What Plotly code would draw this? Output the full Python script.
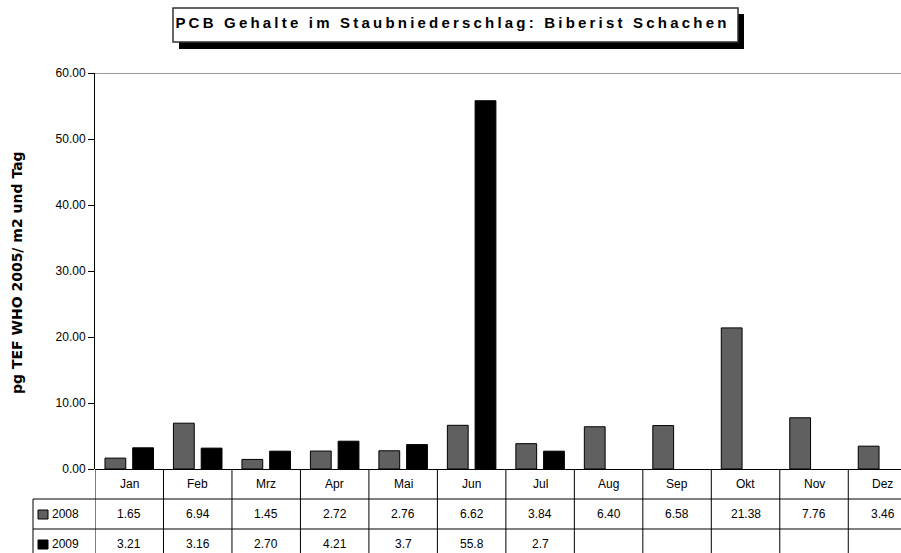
import plotly.graph_objects as go

months = ["Jan", "Feb", "Mrz", "Apr", "Mai", "Jun", "Jul", "Aug", "Sep", "Okt", "Nov", "Dez"]
labels_2008 = ["1.65", "6.94", "1.45", "2.72", "2.76", "6.62", "3.84", "6.40", "6.58", "21.38", "7.76", "3.46"]
labels_2009 = ["3.21", "3.16", "2.70", "4.21", "3.7", "55.8", "2.7", "", "", "", "", ""]
series_names = ["2008", "2009"]
ytick_vals = [0, 10, 20, 30, 40, 50, 60]

vals_2008 = [float(s) if s else None for s in labels_2008]
vals_2009 = [float(s) if s else None for s in labels_2009]

W, H = 901, 553
L, R, T, B = 95, 0, 73, 84
PW, PH = W - L - R, H - T - B
FONT = "Liberation Sans, Arial, sans-serif"


def px(x):
    return (x - L) / PW


def py(y):
    return (H - B - y) / PH


def label(x, y, text, xref="paper", size=12, **kw):
    return dict(x=x, y=y, xref=xref, yref="paper", text=text, showarrow=False,
                xanchor=kw.pop("xanchor", "center"), yanchor="middle",
                font=dict(size=size, color="black", family=kw.pop("family", FONT)), **kw)


fig = go.Figure()
fig.add_trace(go.Bar(x=list(range(12)), y=vals_2008, name=series_names[0],
                     marker=dict(color="#606060", line=dict(color="black", width=1))))
fig.add_trace(go.Bar(x=list(range(12)), y=vals_2009, name=series_names[1],
                     marker=dict(color="black", line=dict(color="black", width=1))))

shapes = []
annotations = []

# grey line at 60
shapes.append(dict(type="line", xref="paper", yref="y", x0=0, x1=1.02, y0=60, y1=60,
                   line=dict(color="#999999", width=2)))

# data table under the axis
for yy in (499, 529):
    shapes.append(dict(type="line", xref="paper", yref="paper", x0=px(33), x1=1.02,
                       y0=py(yy), y1=py(yy), line=dict(color="black", width=1)))
shapes.append(dict(type="line", xref="paper", yref="paper", x0=px(33), x1=px(33),
                   y0=py(499), y1=py(560), line=dict(color="black", width=1)))
for i in range(13):
    shapes.append(dict(type="line", xref="x", yref="paper", x0=i - 0.5, x1=i - 0.5,
                       y0=0, y1=py(560), line=dict(color="black", width=1)))

for i, m in enumerate(months):
    annotations.append(label(i, py(484), m, xref="x"))
    for row, lab in ((514, labels_2008[i]), (544, labels_2009[i])):
        if lab:
            annotations.append(label(i, py(row), lab, xref="x"))

# legend keys in the table
for row, name, col in ((514, series_names[0], "#606060"), (544, series_names[1], "black")):
    shapes.append(dict(type="rect", xref="paper", yref="paper", x0=px(38), x1=px(48),
                       y0=py(row - 4), y1=py(row + 5), fillcolor=col,
                       line=dict(color="black", width=1)))
    annotations.append(label(px(50), py(row), name, xanchor="left"))

# title box with shadow
shapes.append(dict(type="rect", xref="paper", yref="paper", x0=px(179), x1=px(744),
                   y0=py(49), y1=py(14), fillcolor="black", line=dict(width=0)))
shapes.append(dict(type="rect", xref="paper", yref="paper", x0=px(173), x1=px(738),
                   y0=py(42), y1=py(8), fillcolor="white", line=dict(color="#333333", width=1.5)))
annotations.append(label(px(452), py(23), "<b>PCB Gehalte im Staubniederschlag: Biberist Schachen</b>",
                         size=15))

# y-axis title
annotations.append(label(px(17), py(273), "<b>pg TEF WHO 2005/ m2 und Tag</b>", size=14,
                         textangle=-90, family="DejaVu Sans"))

fig.update_layout(
    width=W, height=H,
    margin=dict(l=L, r=R, t=T, b=B),
    paper_bgcolor="white", plot_bgcolor="white",
    barmode="group", bargap=0.19, bargroupgap=0.25,
    showlegend=False,
    shapes=shapes, annotations=annotations,
    xaxis=dict(range=[-0.5, 11.27], showticklabels=False, ticks="", showgrid=False,
               zeroline=False, showline=False),
    yaxis=dict(range=[0, 60], tickvals=ytick_vals, tickformat=".2f", ticks="outside",
               ticklen=6, tickcolor="black", showgrid=False, zeroline=True,
               zerolinecolor="black", zerolinewidth=1, showline=True, linecolor="black",
               linewidth=1, tickfont=dict(size=12, color="black", family=FONT)),
)

# no page margin; spread the title letters like the original
post = """
document.body.style.margin = '0';
document.body.style.overflow = 'hidden';
document.querySelectorAll('text.annotation-text').forEach(function (t) {
    if (t.textContent.indexOf('PCB') === 0) { t.style.letterSpacing = '3.2px'; }
});
"""
fig.write_html("out.html", post_script=post, config={"displayModeBar": False})
